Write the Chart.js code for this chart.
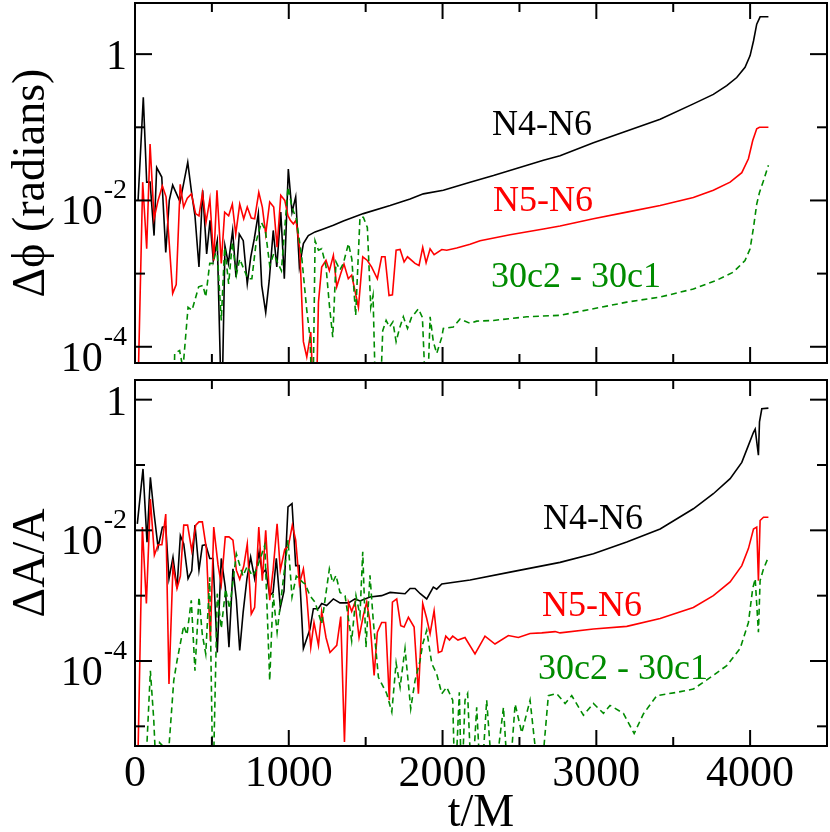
<!DOCTYPE html>
<html>
<head>
    <title>Phase and amplitude differences</title>
    <style>
        body { margin: 0; background: #fff; }
        #wrap { position: relative; width: 830px; height: 832px; }
        #topBox { position: absolute; left: 0; top: 0; width: 830px; height: 372px; }
        #botBox { position: absolute; left: 0; top: 372px; width: 830px; height: 460px; }
    </style>
    <script src="https://cdn.jsdelivr.net/npm/chart.js"></script>
</head>
<body>
<div id="wrap">
    <div id="topBox"><canvas id="phiChart" width="830" height="372"></canvas></div>
    <div id="botBox"><canvas id="ampChart" width="830" height="460"></canvas></div>
</div>
<script>
    // values: time t/M and log10 of the difference
    const phiTimeN4 = [20, 54, 76, 98, 124, 141, 174, 200, 223, 245, 293, 343, 369, 390, 416, 440, 466, 488, 509, 535, 564, 585, 607, 635, 657, 678, 704, 730, 753, 776, 802, 824, 850, 873, 899, 922, 948, 971, 997, 1021, 1045, 1069, 1095, 1127, 1171, 1225, 1290, 1355, 1485, 1659, 1789, 1875, 2005, 2179, 2331, 2656, 2764, 2981, 3198, 3415, 3631, 3761, 3848, 3913, 3967, 4000, 4022, 4043, 4065, 4119];
    const phiLogN4 = [-2.0, -0.59, -1.75, -1.75, -2.48, -1.55, -1.68, -2.71, -2.0, -1.79, -2.02, -1.48, -1.91, -2.21, -2.91, -1.86, -2.73, -2.27, -2.82, -2.55, -5, -2.62, -2.86, -2.41, -3.05, -2.46, -2.55, -3.14, -2.77, -2.52, -2.18, -3.16, -3.53, -3.09, -2.41, -2.91, -2.16, -3.07, -1.57, -2.16, -1.95, -2.91, -2.59, -2.48, -2.43, -2.39, -2.34, -2.28, -2.18, -2.07, -1.98, -1.91, -1.86, -1.75, -1.66, -1.45, -1.39, -1.21, -1.05, -0.89, -0.68, -0.55, -0.43, -0.32, -0.18, -0.02, 0.18, 0.41, 0.51, 0.51];

    const phiTimeN5 = [15, 50, 76, 98, 124, 150, 178, 202, 245, 268, 294, 316, 340, 367, 394, 416, 439, 462, 487, 512, 533, 561, 583, 609, 633, 655, 681, 707, 730, 756, 778, 805, 828, 850, 876, 902, 924, 948, 974, 995, 1010, 1030, 1047, 1072, 1095, 1117, 1143, 1165, 1177, 1193, 1214, 1242, 1264, 1290, 1312, 1338, 1359, 1387, 1409, 1453, 1481, 1511, 1539, 1576, 1604, 1626, 1652, 1674, 1698, 1724, 1750, 1772, 1821, 1847, 1871, 1893, 1919, 1945, 1995, 2027, 2092, 2179, 2244, 2439, 2656, 2764, 2981, 3198, 3415, 3631, 3761, 3870, 3946, 3989, 4017, 4043, 4061, 4119];
    const phiLogN5 = [-5, -1.75, -2.66, -1.23, -2.25, -2.0, -1.80, -1.95, -3.27, -3.15, -1.78, -2.09, -1.97, -1.91, -2.18, -2.21, -1.90, -2.30, -1.98, -2.82, -1.86, -2.86, -2.16, -2.21, -2.05, -2.46, -2.05, -2.25, -2.09, -2.24, -2.25, -1.89, -2.09, -2.46, -2.02, -2.09, -2.64, -1.93, -2.0, -2.21, -2.27, -2.32, -2.27, -2.68, -3.93, -4.14, -3.80, -5, -5, -3.39, -2.91, -2.82, -2.96, -2.75, -3.18, -3.0, -2.87, -3.07, -3.02, -3.46, -2.77, -2.82, -2.91, -3.07, -2.77, -2.77, -3.30, -3.29, -2.68, -2.67, -2.84, -2.77, -2.86, -2.89, -2.64, -2.85, -2.66, -2.74, -2.67, -2.68, -2.65, -2.60, -2.55, -2.47, -2.39, -2.35, -2.25, -2.16, -2.07, -1.96, -1.86, -1.75, -1.62, -1.43, -1.18, -1.02, -1.0, -1.0];

    const phiTimeDiff = [250, 258, 290, 312, 345, 371, 414, 442, 460, 486, 507, 533, 561, 583, 609, 633, 659, 681, 710, 735, 760, 789, 822, 848, 876, 902, 952, 995, 1023, 1049, 1084, 1117, 1138, 1156, 1171, 1193, 1214, 1242, 1264, 1286, 1307, 1333, 1355, 1388, 1410, 1435, 1463, 1485, 1511, 1533, 1548, 1568, 1590, 1611, 1633, 1655, 1677, 1698, 1720, 1745, 1772, 1798, 1843, 1869, 1897, 1919, 1940, 1962, 1995, 2005, 2070, 2114, 2179, 2222, 2331, 2548, 2764, 2981, 3198, 3415, 3631, 3783, 3891, 3967, 4000, 4022, 4043, 4061, 4087, 4119];
    const phiLogDiff = [-5, -4.09, -4.05, -4.3, -3.46, -3.5, -3.18, -3.16, -3.32, -2.86, -2.86, -2.64, -3.64, -2.64, -3.14, -2.57, -3.02, -2.80, -2.95, -3.07, -3.07, -2.55, -2.30, -2.41, -2.89, -2.73, -2.96, -1.82, -2.11, -2.25, -2.77, -3.50, -3.87, -5, -2.55, -2.68, -2.66, -2.9, -3.43, -3.87, -2.84, -2.95, -2.86, -2.59, -2.80, -3.57, -2.23, -2.23, -2.37, -3.46, -3.3, -5, -5, -3.78, -3.64, -3.73, -3.66, -3.93, -3.75, -3.59, -3.75, -3.6, -3.48, -3.6, -5, -3.59, -3.93, -4.09, -3.87, -3.75, -3.73, -3.62, -3.68, -3.65, -3.64, -3.59, -3.57, -3.48, -3.39, -3.32, -3.21, -3.09, -2.98, -2.82, -2.66, -2.37, -2.05, -1.89, -1.73, -1.52];

    const ampTimeN4 = [15, 52, 78, 100, 122, 150, 178, 200, 221, 247, 273, 295, 317, 345, 369, 390, 416, 438, 460, 486, 507, 535, 561, 587, 611, 637, 659, 681, 703, 728, 752, 778, 807, 828, 850, 876, 898, 919, 945, 969, 995, 1021, 1045, 1067, 1095, 1138, 1160, 1192, 1214, 1246, 1290, 1333, 1388, 1431, 1463, 1528, 1604, 1659, 1756, 1789, 1821, 1855, 1897, 1940, 1962, 1995, 2179, 2439, 2656, 2764, 2981, 3198, 3415, 3631, 3761, 3870, 3946, 3989, 4022, 4033, 4054, 4061, 4076, 4119];
    const ampLogN4 = [-1.9, -1.06, -2.18, -1.19, -1.70, -2.26, -1.95, -1.94, -2.74, -2.41, -2.89, -2.08, -2.21, -2.74, -2.62, -1.92, -2.61, -2.23, -2.22, -2.43, -2.43, -3.87, -2.43, -2.87, -3.79, -2.59, -3.06, -3.84, -3.26, -2.74, -2.41, -2.74, -2.33, -2.66, -2.6, -3.0, -2.95, -2.43, -3.18, -2.93, -1.64, -1.59, -2.54, -2.54, -3.81, -3.51, -3.20, -3.2, -3.12, -3.15, -3.05, -3.11, -3.11, -3.05, -3.08, -3.02, -3.0, -2.95, -2.97, -2.89, -2.89, -2.97, -3.05, -2.87, -2.9, -2.82, -2.76, -2.64, -2.54, -2.49, -2.36, -2.18, -1.98, -1.67, -1.44, -1.21, -0.96, -0.70, -0.50, -0.45, -0.85, -0.34, -0.14, -0.13];

    const ampTimeN5 = [15, 48, 74, 100, 126, 150, 175, 200, 221, 247, 273, 295, 317, 342, 369, 395, 416, 438, 464, 490, 512, 540, 561, 587, 611, 637, 659, 681, 707, 730, 756, 778, 805, 828, 850, 876, 898, 924, 945, 974, 997, 1023, 1045, 1069, 1095, 1117, 1143, 1164, 1193, 1214, 1242, 1268, 1312, 1338, 1362, 1388, 1409, 1431, 1457, 1485, 1507, 1528, 1555, 1576, 1604, 1630, 1654, 1674, 1702, 1728, 1750, 1778, 1815, 1843, 1871, 1897, 1919, 1945, 1973, 1995, 2021, 2045, 2066, 2100, 2146, 2211, 2276, 2341, 2428, 2493, 2569, 2645, 2732, 2764, 2981, 3198, 3415, 3631, 3761, 3870, 3946, 3989, 4022, 4043, 4054, 4065, 4087, 4119];
    const ampLogN5 = [-6, -1.95, -3.12, -1.52, -2.38, -2.22, -2.22, -1.75, -4.35, -2.54, -2.89, -2.7, -1.92, -1.92, -2.31, -1.92, -1.87, -1.87, -2.28, -3.69, -1.95, -2.53, -2.83, -2.10, -2.10, -2.15, -2.61, -2.75, -2.55, -2.21, -3.28, -3.18, -1.95, -2.77, -2.0, -3.07, -2.61, -1.90, -2.61, -2.29, -2.25, -1.92, -2.15, -2.82, -2.59, -3.02, -3.79, -3.41, -3.76, -3.24, -3.64, -3.87, -3.76, -3.32, -5.24, -3.10, -3.24, -3.10, -3.64, -3.3, -3.10, -3.4, -4.22, -3.56, -3.41, -3.41, -4.60, -3.10, -3.05, -3.46, -3.48, -3.33, -3.48, -4.50, -3.12, -3.35, -3.58, -3.23, -3.87, -3.85, -3.62, -3.68, -3.62, -3.68, -3.64, -3.89, -3.62, -3.74, -3.61, -3.64, -3.58, -3.57, -3.55, -3.57, -3.51, -3.47, -3.35, -3.18, -3.0, -2.79, -2.54, -2.28, -1.98, -1.95, -2.77, -1.85, -1.80, -1.80];

    const ampTimeDiff = [63, 100, 122, 143, 160, 180, 200, 252, 273, 317, 338, 366, 390, 416, 438, 460, 486, 507, 535, 561, 589, 615, 659, 702, 730, 763, 790, 844, 876, 898, 924, 952, 995, 1021, 1049, 1093, 1106, 1138, 1171, 1214, 1264, 1286, 1307, 1333, 1366, 1409, 1437, 1463, 1481, 1502, 1528, 1550, 1583, 1637, 1670, 1698, 1724, 1756, 1793, 1821, 1854, 1871, 1897, 1930, 1962, 1995, 2027, 2066, 2081, 2109, 2124, 2146, 2163, 2190, 2222, 2250, 2287, 2330, 2396, 2430, 2472, 2515, 2569, 2634, 2688, 2742, 2797, 2840, 2916, 2981, 3046, 3089, 3176, 3246, 3306, 3393, 3523, 3631, 3761, 3848, 3935, 3989, 4017, 4033, 4054, 4065, 4087, 4119];
    const ampLogDiff = [-6, -4.15, -4.9, -6, -5.25, -5.3, -6, -4.30, -4.0, -3.46, -3.6, -3.07, -4.15, -3.02, -3.6, -3.89, -2.72, -6, -2.97, -3.5, -2.9, -3.2, -2.36, -2.7, -2.55, -2.7, -2.6, -2.23, -4.30, -2.97, -3.56, -3.0, -2.15, -3.02, -2.7, -2.8, -2.82, -3.0, -3.1, -3.43, -2.59, -2.8, -2.69, -2.95, -3.0, -3.69, -3.0, -3.3, -2.33, -3.79, -2.69, -3.4, -4.25, -4.50, -4.78, -4.03, -4.4, -3.81, -4.73, -4.3, -3.99, -3.74, -3.53, -4.04, -4.2, -4.50, -4.4, -4.6, -6, -4.48, -6, -4.6, -4.5, -6, -4.71, -6, -4.60, -6, -4.71, -6, -4.66, -5.1, -4.60, -6, -4.53, -4.50, -4.65, -4.53, -4.83, -4.65, -4.8, -4.68, -4.8, -5.11, -4.81, -4.53, -4.48, -4.43, -4.22, -4.07, -3.81, -3.41, -2.89, -2.74, -3.56, -2.77, -2.59, -2.41];

    const xMajorTicks = [1000, 2000, 3000, 4000];
    const xMinorTicks = [500, 1500, 2500, 3500];
    const xTickLabels = [0, 1000, 2000, 3000, 4000];

    const BLACK = '#000000', RED = '#ff0000', GREEN = '#008b00';
    const serif = '"Liberation Serif", "DejaVu Serif", serif';

    function pts(ts, logs) {
        return ts.map((t, i) => ({ x: t, y: Math.pow(10, logs[i]) }));
    }

    function line(ctx, x1, y1, x2, y2) {
        ctx.beginPath();
        ctx.moveTo(x1, y1);
        ctx.lineTo(x2, y2);
        ctx.stroke();
    }

    // frame, inward ticks, tick labels and curve labels
    const framePlugin = {
        id: 'frame',
        afterDraw(chart, args, o) {
            const { ctx, chartArea: a } = chart;
            const xs = chart.scales.x, ys = chart.scales.y;
            ctx.save();
            ctx.strokeStyle = BLACK;
            ctx.lineWidth = 2;
            ctx.strokeRect(a.left, a.top, a.right - a.left, a.bottom - a.top);

            xMajorTicks.forEach(v => {
                const px = xs.getPixelForValue(v);
                line(ctx, px, a.bottom, px, a.bottom - 16);
                line(ctx, px, a.top, px, a.top + 16);
            });
            xMinorTicks.forEach(v => {
                const px = xs.getPixelForValue(v);
                line(ctx, px, a.bottom, px, a.bottom - 9);
                line(ctx, px, a.top, px, a.top + 9);
            });
            o.yMajor.forEach(e => {
                const py = ys.getPixelForValue(Math.pow(10, e));
                line(ctx, a.left, py, a.left + 17, py);
                line(ctx, a.right, py, a.right - 17, py);
            });
            o.yMinor.forEach(e => {
                const py = ys.getPixelForValue(Math.pow(10, e));
                line(ctx, a.left, py, a.left + 10, py);
                line(ctx, a.right, py, a.right - 10, py);
            });

            ctx.fillStyle = BLACK;
            ctx.textBaseline = 'alphabetic';
            o.yMajor.forEach(e => {
                const py = ys.getPixelForValue(Math.pow(10, e));
                const xr = a.left - 8;
                ctx.textAlign = 'right';
                if (e === 0) {
                    ctx.font = '42px ' + serif;
                    ctx.fillText('1', xr, py + 15);
                } else {
                    ctx.font = '28px ' + serif;
                    const sup = String(e);
                    ctx.fillText(sup, xr, py - 2);
                    const w = ctx.measureText(sup).width;
                    ctx.font = '42px ' + serif;
                    ctx.fillText('10', xr - w - 1, py + 24);
                }
            });

            if (o.xLabels) {
                ctx.textAlign = 'center';
                ctx.font = '44px ' + serif;
                xTickLabels.forEach(v => {
                    ctx.fillText(String(v), xs.getPixelForValue(v), a.bottom + 40);
                });
                ctx.font = '46px ' + serif;
                ctx.fillText('t/M', (a.left + a.right) / 2, a.bottom + 80);
            }

            ctx.save();
            ctx.translate(44, (a.top + a.bottom) / 2);
            ctx.rotate(-Math.PI / 2);
            ctx.textAlign = 'center';
            ctx.font = '46px ' + serif;
            ctx.fillText(o.yTitle, 0, 0);
            ctx.restore();

            ctx.textAlign = 'left';
            ctx.font = '36px ' + serif;
            o.notes.forEach(n => {
                ctx.fillStyle = n.color;
                ctx.fillText(n.text, n.x, n.y);
            });
            ctx.restore();
        }
    };

    function makeChart(id, sets, yMin, yMax, pad, frameOpts) {
        return new Chart(document.getElementById(id).getContext('2d'), {
            type: 'line',
            data: {
                datasets: sets.map(s => ({
                    data: s.data,
                    borderColor: s.color,
                    borderWidth: 1.6,
                    borderDash: s.dash || [],
                    pointRadius: 0,
                    tension: 0,
                    fill: false
                }))
            },
            options: {
                responsive: false,
                animation: false,
                devicePixelRatio: 1,
                layout: { padding: pad },
                plugins: {
                    legend: { display: false },
                    tooltip: { enabled: false },
                    frame: frameOpts
                },
                scales: {
                    x: { type: 'linear', min: 0, max: 4500, bounds: 'data', display: false },
                    y: { type: 'logarithmic', min: yMin, max: yMax, bounds: 'data', display: false }
                }
            },
            plugins: [framePlugin]
        });
    }

    makeChart('phiChart', [
        { data: pts(phiTimeDiff, phiLogDiff), color: GREEN, dash: [6, 4] },
        { data: pts(phiTimeN5, phiLogN5), color: RED },
        { data: pts(phiTimeN4, phiLogN4), color: BLACK }
    ], 6e-5, 5, { left: 135, top: 3, right: 3, bottom: 9 }, {
        yMajor: [0, -2, -4],
        yMinor: [-1, -3],
        xLabels: false,
        yTitle: 'Δϕ (radians)',
        notes: [
            { text: 'N4-N6', color: BLACK, x: 492, y: 135 },
            { text: 'N5-N6', color: RED, x: 493, y: 211 },
            { text: '30c2 - 30c1', color: GREEN, x: 491, y: 287 }
        ]
    });

    makeChart('ampChart', [
        { data: pts(ampTimeDiff, ampLogDiff), color: GREEN, dash: [6, 4] },
        { data: pts(ampTimeN5, ampLogN5), color: RED },
        { data: pts(ampTimeN4, ampLogN4), color: BLACK }
    ], 5e-6, 2, { left: 135, top: 8, right: 3, bottom: 86 }, {
        yMajor: [0, -2, -4],
        yMinor: [-1, -3, -5],
        xLabels: true,
        yTitle: 'ΔA/A',
        notes: [
            { text: 'N4-N6', color: BLACK, x: 543, y: 529 - 372 },
            { text: 'N5-N6', color: RED, x: 542, y: 616 - 372 },
            { text: '30c2 - 30c1', color: GREEN, x: 538, y: 679 - 372 }
        ]
    });
</script>
</body>
</html>
